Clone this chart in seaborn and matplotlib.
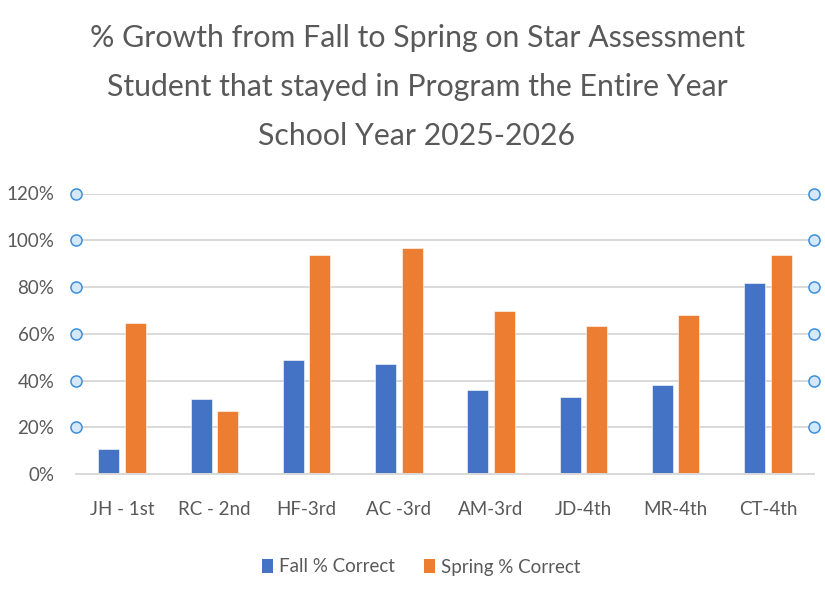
import matplotlib
matplotlib.use("Agg")
import matplotlib.pyplot as plt
import seaborn as sns
import pandas as pd
from matplotlib.patches import Patch

# ---- data ----
categories = ["JH - 1st", "RC - 2nd", "HF-3rd", "AC -3rd", "AM-3rd", "JD-4th", "MR-4th", "CT-4th"]
fall = [0.11, 0.32, 0.49, 0.473, 0.362, 0.33, 0.38, 0.816]
spring = [0.645, 0.27, 0.936, 0.967, 0.697, 0.632, 0.682, 0.936]
series_names = ["Fall % Correct", "Spring % Correct"]
y_ticks = [0.0, 0.2, 0.4, 0.6, 0.8, 1.0, 1.2]
y_tick_labels = ["0%", "20%", "40%", "60%", "80%", "100%", "120%"]
title_lines = [
    "% Growth from Fall to Spring on Star Assessment",
    "Student that stayed in Program the Entire Year",
    "School Year 2025-2026",
]
colors = ["#4472C4", "#ED7D31"]

sns.set_theme(style="white")
plt.rcParams["font.family"] = ["Lato", "DejaVu Sans"]

TXT = "#595959"
GRID = "#d9d9d9"

df = pd.DataFrame({
    "Student": categories * 2,
    "Score": fall + spring,
    "Series": [series_names[0]] * len(categories) + [series_names[1]] * len(categories),
})

fig = plt.figure(figsize=(8.25, 6), dpi=100)
ax = fig.add_axes([76 / 825, 1 - 474.3 / 600, (814 - 76) / 825, (474.3 - 193.5) / 600])

sns.barplot(data=df, x="Student", y="Score", hue="Series", palette=colors,
            width=0.576, gap=0.21, saturation=1, errorbar=None, legend=False,
            edgecolor="white", linewidth=0.4, ax=ax)

ax.set_xlim(-0.5, len(categories) - 0.5)
ax.set_ylim(0, 1.2)
ax.set_yticks(y_ticks)
ax.set_yticklabels(y_tick_labels)
ax.set_xlabel("")
ax.set_ylabel("")
ax.yaxis.grid(True, color=GRID, lw=1.4)
ax.xaxis.grid(False)
ax.set_axisbelow(True)
for s in ["top", "left", "right"]:
    ax.spines[s].set_visible(False)
ax.spines["bottom"].set_color(GRID)
ax.spines["bottom"].set_linewidth(1.4)
ax.tick_params(axis="y", length=0, pad=15.5, labelsize=13.5, labelcolor=TXT)
ax.tick_params(axis="x", length=0, pad=19, labelsize=13.5, labelcolor=TXT)

# selection handles at gridlines (both ends)
for y in y_ticks[1:]:
    ax.plot([-0.5, len(categories) - 0.5], [y, y], "o", ms=8, mfc="#d5e8f7",
            mec="#3d8fd9", mew=1.1, clip_on=False, zorder=6)

# title
for i, line in enumerate(title_lines):
    fig.text(417 / 825, 1 - (47.5 + i * 48.8) / 600, line, ha="center", va="baseline",
             fontsize=21.8, color=TXT)

# legend
handles = [Patch(facecolor=c, edgecolor="none") for c in colors]
fig.legend(handles, series_names, loc="center", bbox_to_anchor=(421 / 825, 1 - 567 / 600),
           ncol=2, frameon=False, fontsize=13.5, labelcolor=TXT,
           handlelength=0.59, handleheight=0.75, handletextpad=0.32, columnspacing=1.55)

fig.savefig("out.png", dpi=100)
